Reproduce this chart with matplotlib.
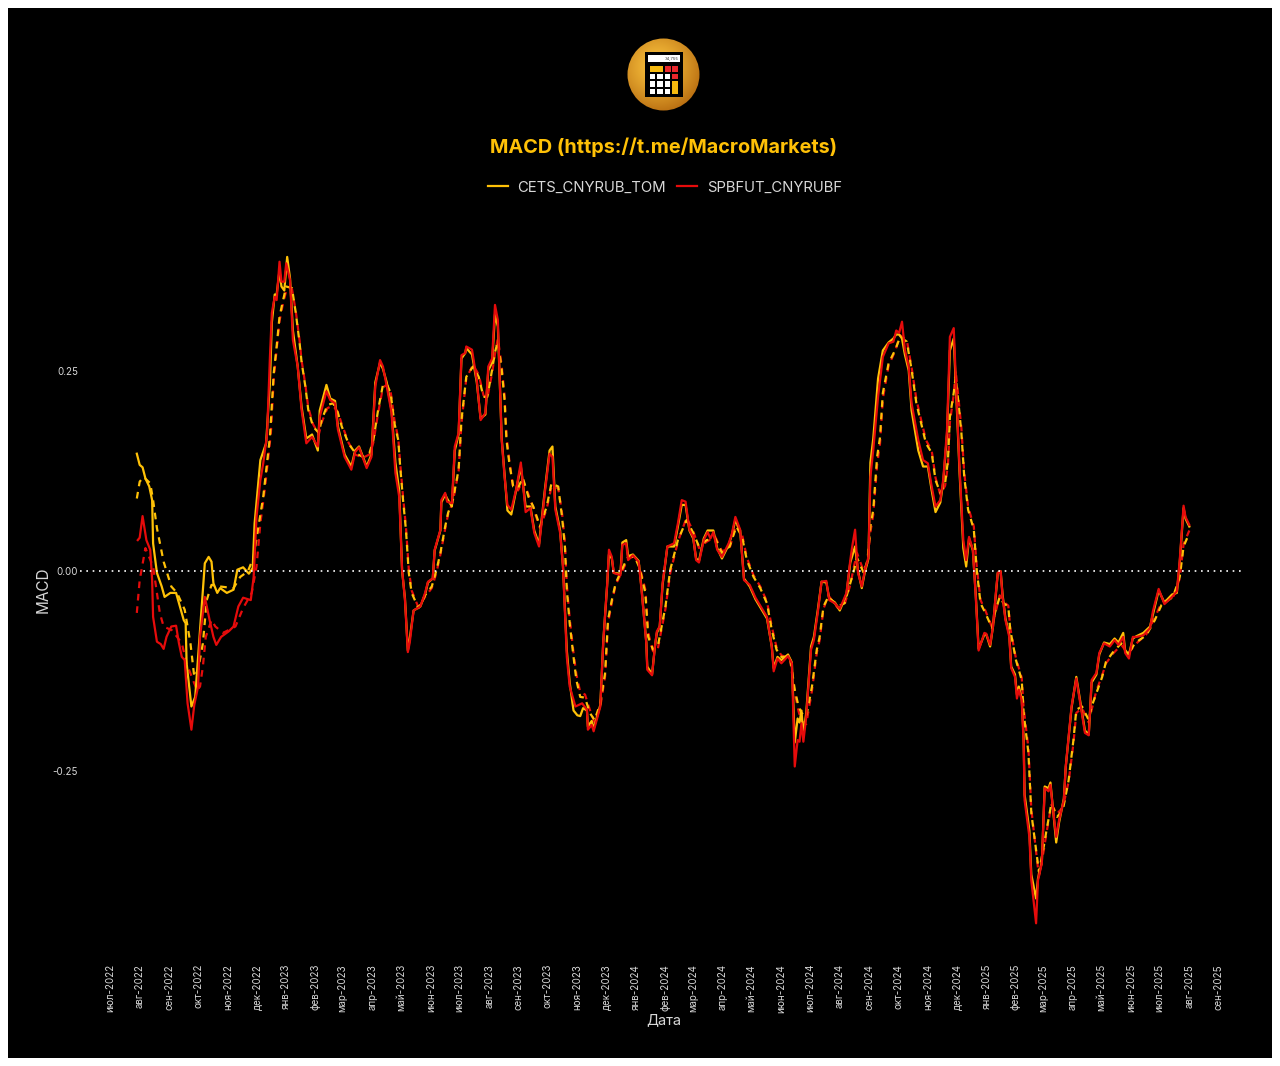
import numpy as np
import pandas as pd
import matplotlib
matplotlib.use('Agg')
import matplotlib.pyplot as plt
from matplotlib.patches import Rectangle, Circle
from matplotlib.lines import Line2D

plt.rcParams['font.family'] = ['Inter', 'DejaVu Sans']

W, H = 1280, 1066
START = pd.Timestamp('2022-07-01')

# (days since 1 Jul 2022, value)
cets_macd = [
    (28, .146), (31, .132), (34, .129), (37, .115), (41, .105), (44, .088), (45, .034), (49, -.003), (54, -.020),
    (57, -.033), (63, -.028), (69, -.028), (73, -.045), (77, -.062), (79, -.066), (80, -.116), (85, -.170), (89, -.158),
    (92, -.108), (99, .009), (103, .017), (106, .011), (108, -.016), (112, -.028), (115, -.022), (122, -.028),
    (129, -.024), (133, .001), (139, .004), (145, -.004), (149, .003), (151, .059), (157, .138), (163, .159),
    (167, .235), (169, .31), (172, .345), (174, .345), (177, .375), (179, .355), (182, .35), (185, .392), (188, .365),
    (191, .30), (196, .255), (200, .205), (205, .165), (211, .17), (217, .15), (219, .20), (226, .232), (230, .215),
    (235, .212), (238, .18), (245, .145), (252, .13), (256, .15), (260, .155), (268, .13), (273, .145), (277, .235),
    (282, .26), (285, .252), (289, .235), (294, .20), (298, .135), (302, .10), (305, .0), (308, -.035), (311, -.10),
    (313, -.085), (317, -.05), (324, -.045), (329, -.03), (332, -.015), (337, -.01), (339, .025), (345, .05), (346, .085),
    (350, .095), (352, .09), (357, .08), (360, .15), (364, .17), (367, .265), (371, .272), (372, .278), (378, .27),
    (383, .235), (387, .19), (392, .195), (395, .25), (399, .26), (402, .32), (405, .305), (409, .165), (412, .12),
    (415, .075), (419, .07), (424, .10), (429, .13), (434, .08), (439, .08), (443, .05), (448, .033), (454, .1), (459, .15),
    (462, .155), (465, .08), (470, .05), (473, .005), (477, -.10), (480, -.14), (484, -.175), (488, -.181), (491, -.182),
    (494, -.172), (498, -.175), (499, -.195), (503, -.188), (505, -.198), (512, -.168), (515, -.09), (519, -.02),
    (521, .02), (524, .015), (526, -.003), (533, -.004), (535, .035), (539, .038), (541, .018), (546, .02), (552, .012),
    (555, -.022), (560, -.09), (561, -.12), (566, -.13), (569, -.095), (571, -.078), (574, -.07), (577, -.018), (582, .03),
    (589, .03), (593, .055), (597, .082), (601, .082), (605, .05), (609, .04), (612, .015), (615, .012), (620, .04),
    (624, .05), (630, .05), (634, .028), (639, .015), (646, .032), (649, .043), (653, .063), (658, .05), (662, -.01),
    (668, -.02), (674, -.036), (686, -.06), (691, -.095), (693, -.122), (697, -.108), (701, -.112), (708, -.105),
    (712, -.115), (715, -.215), (718, -.185), (720, -.19), (722, -.175), (724, -.205), (727, -.178), (732, -.095),
    (735, -.083), (739, -.05), (743, -.014), (748, -.015), (751, -.035), (757, -.04), (762, -.05), (769, -.03), (773, .01),
    (778, .03), (781, .0), (785, -.022), (788, -.003), (792, .015), (794, .135), (797, .165), (802, .24), (807, .275),
    (813, .285), (818, .29), (821, .295), (824, .295), (827, .29), (830, .27), (834, .25), (837, .20), (844, .15),
    (849, .13), (854, .13), (858, .10), (862, .073), (867, .085), (870, .11), (874, .17), (877, .275), (881, .29),
    (884, .21), (887, .125), (891, .028), (894, .005), (897, .04), (901, .025), (904, -.03), (907, -.098), (913, -.08),
    (915, -.08), (919, -.095), (922, -.07), (925, -.03), (927, -.003), (930, -.001), (932, -.03), (935, -.06), (939, -.08),
    (941, -.12), (945, -.13), (947, -.155), (949, -.145), (952, -.16), (954, -.21), (955, -.28), (960, -.325), (962, -.38),
    (967, -.41), (969, -.385), (973, -.365), (976, -.27), (980, -.272), (982, -.265), (984, -.29), (988, -.34), (991, -.315),
    (996, -.285), (998, -.245), (1004, -.172), (1009, -.133), (1018, -.2), (1022, -.205), (1025, -.14), (1030, -.13),
    (1033, -.105), (1038, -.09), (1044, -.092), (1049, -.085), (1053, -.09), (1058, -.078), (1060, -.1), (1064, -.105),
    (1068, -.085), (1072, -.082), (1079, -.078), (1086, -.07), (1089, -.055), (1095, -.025), (1101, -.04), (1109, -.03),
    (1114, -.028), (1117, .01), (1121, .078), (1123, .065), (1127, .055),
]

spb_macd = [
    (29, .038), (31, .041), (34, .068), (38, .038), (42, .026), (44, -.012), (45, -.058), (49, -.089), (53, -.092),
    (56, -.098), (59, -.083), (64, -.070), (69, -.069), (72, -.091), (75, -.108), (78, -.112), (81, -.166), (85, -.199),
    (88, -.168), (92, -.145), (94, -.083), (99, -.033), (104, -.062), (108, -.083), (111, -.093), (116, -.083),
    (124, -.076), (129, -.070), (134, -.045), (139, -.034), (147, -.037), (150, -.008), (153, .067), (157, .113),
    (160, .134), (164, .170), (167, .267), (169, .322), (172, .342), (174, .338), (177, .386), (179, .361), (182, .361),
    (184, .384), (188, .363), (191, .288), (196, .255), (200, .201), (205, .159), (211, .167), (217, .155), (219, .192),
    (226, .224), (230, .213), (235, .209), (238, .176), (245, .142), (252, .126), (256, .148), (260, .154), (268, .128),
    (273, .142), (277, .230), (282, .263), (285, .255), (289, .230), (294, .197), (298, .122), (302, .092), (305, .001),
    (308, -.037), (311, -.102), (313, -.090), (317, -.050), (324, -.045), (329, -.028), (332, -.014), (337, -.010),
    (339, .026), (345, .051), (346, .088), (350, .097), (352, .086), (357, .084), (360, .155), (364, .172), (367, .269),
    (371, .272), (372, .280), (378, .276), (383, .238), (387, .188), (392, .197), (395, .255), (399, .265), (402, .332),
    (405, .313), (409, .163), (412, .117), (415, .082), (419, .076), (424, .101), (429, .135), (434, .073), (439, .078),
    (443, .047), (448, .030), (454, .097), (459, .146), (462, .142), (465, .076), (470, .047), (473, .005), (477, -.108),
    (480, -.145), (486, -.170), (493, -.166), (498, -.174), (499, -.199), (503, -.193), (505, -.201), (512, -.170),
    (515, -.091), (519, -.020), (521, .026), (524, .017), (526, -.003), (533, -.006), (535, .032), (539, .034),
    (541, .013), (546, .019), (552, .011), (555, -.024), (560, -.091), (561, -.124), (566, -.131), (569, -.095),
    (571, -.076), (574, -.070), (577, -.016), (582, .030), (589, .034), (593, .059), (597, .088), (601, .086), (605, .051),
    (609, .042), (612, .013), (615, .010), (620, .038), (624, .048), (627, .040), (630, .048), (634, .026), (639, .017),
    (646, .034), (649, .044), (653, .067), (658, .051), (662, -.012), (668, -.018), (674, -.034), (686, -.058),
    (691, -.095), (693, -.126), (697, -.110), (701, -.116), (708, -.107), (712, -.116), (715, -.245), (718, -.212),
    (720, -.214), (722, -.191), (724, -.214), (727, -.183), (732, -.099), (735, -.087), (739, -.053), (743, -.014),
    (748, -.013), (751, -.037), (757, -.041), (762, -.048), (769, -.028), (773, .013), (775, .030), (778, .051),
    (781, -.003), (785, -.020), (788, -.001), (792, .017), (794, .117), (797, .151), (802, .217), (807, .267), (813, .284),
    (818, .286), (821, .300), (824, .297), (827, .311), (830, .276), (834, .255), (837, .209), (844, .163), (849, .138),
    (854, .134), (858, .105), (862, .080), (867, .088), (870, .113), (874, .176), (877, .292), (881, .303), (884, .217),
    (887, .130), (891, .038), (894, .013), (897, .042), (901, .026), (904, -.033), (907, -.100), (913, -.078), (915, -.079),
    (919, -.093), (922, -.070), (925, -.028), (927, -.003), (930, -.001), (932, -.033), (935, -.062), (939, -.083),
    (941, -.122), (945, -.133), (947, -.160), (949, -.149), (952, -.162), (954, -.216), (955, -.287), (960, -.333),
    (962, -.387), (967, -.441), (969, -.387), (973, -.366), (976, -.272), (980, -.276), (982, -.268), (984, -.291),
    (988, -.333), (991, -.312), (996, -.287), (998, -.245), (1004, -.170), (1009, -.135), (1018, -.203), (1022, -.206),
    (1025, -.137), (1030, -.128), (1033, -.103), (1038, -.091), (1044, -.095), (1049, -.087), (1053, -.093), (1058, -.083),
    (1060, -.103), (1064, -.110), (1068, -.083), (1072, -.083), (1079, -.081), (1086, -.072), (1089, -.051), (1095, -.023),
    (1101, -.042), (1109, -.033), (1114, -.026), (1117, .013), (1121, .081), (1123, .067), (1127, .057),
]

cets_signal = [
    (28, .09), (31, .111), (35, .117), (42, .109), (45, .088), (49, .053), (56, .011), (64, -.020), (70, -.028),
    (78, -.049), (84, -.091), (88, -.133), (92, -.124), (97, -.091), (101, -.037), (106, -.018), (115, -.020),
    (129, -.022), (136, -.008), (144, -.001), (150, .017), (155, .055), (160, .092), (164, .135),
    (167, .167), (171, .247), (174, .280), (177, .317), (180, .334), (184, .355), (190, .353), (194, .322), (198, .284),
    (200, .261), (204, .230), (207, .201), (212, .180), (218, .172), (221, .188), (227, .207), (233, .209), (238, .197),
    (242, .180), (249, .159), (256, .147), (264, .142), (271, .147), (275, .163), (280, .201), (285, .232), (289, .233),
    (293, .222), (297, .184), (301, .163), (303, .130), (306, .088), (309, .051), (312, -.003), (315, -.028), (322, -.047),
    (329, -.031), (336, -.020), (341, .001), (345, .022), (350, .055), (353, .072), (358, .088), (364, .126), (367, .188),
    (372, .242), (379, .255), (385, .242), (390, .217), (394, .217), (399, .251), (402, .273), (405, .286), (409, .251),
    (412, .213), (414, .163), (417, .134), (421, .105), (426, .103), (431, .116), (437, .092), (442, .080), (449, .055),
    (456, .080), (461, .109), (468, .105), (472, .067), (475, .030), (477, -.024), (480, -.066), (484, -.108), (487, -.137),
    (491, -.158), (496, -.159), (501, -.178), (506, -.187), (512, -.166), (517, -.128), (520, -.062), (524, -.037),
    (528, -.016), (536, .005), (541, .017), (548, .017), (553, .003), (559, -.028), (562, -.083), (567, -.099), (572, -.095),
    (580, -.045), (585, .001), (593, .038), (602, .063), (609, .047), (615, .030), (623, .038), (632, .040), (639, .022),
    (647, .030), (654, .055), (660, .042), (665, .013), (672, -.008), (679, -.022), (686, -.041), (691, -.074), (696, -.099),
    (701, -.108), (710, -.108), (715, -.149), (719, -.170), (722, -.178), (727, -.183), (733, -.145), (738, -.099),
    (741, -.083), (745, -.045), (750, -.033), (760, -.045), (767, -.041), (773, -.016), (777, .001), (780, .016), (787, -.003),
    (791, .013), (794, .055), (797, .076), (801, .142), (804, .166), (807, .222), (813, .259), (820, .276), (825, .292),
    (832, .286), (837, .251), (842, .209), (847, .184), (852, .159), (858, .147), (862, .113), (867, .097), (872, .109),
    (875, .138), (877, .192), (881, .222), (883, .242), (886, .209), (889, .172), (892, .117), (896, .076), (902, .051),
    (905, .001), (909, -.041), (914, -.053), (921, -.072), (924, -.053), (929, -.033), (933, -.041), (938, -.045),
    (940, -.074), (946, -.112), (952, -.137), (954, -.178), (959, -.228), (962, -.303), (968, -.358), (970, -.377),
    (975, -.345), (978, -.324), (983, -.291), (989, -.308), (995, -.299), (1001, -.262), (1006, -.212), (1009, -.174),
    (1015, -.170), (1022, -.187), (1025, -.170), (1030, -.153), (1036, -.133), (1040, -.114), (1048, -.101), (1056, -.091),
    (1063, -.106), (1070, -.091), (1082, -.081), (1091, -.062), (1098, -.043), (1110, -.033), (1117, -.008), (1121, .030),
    (1127, .047),
]

spb_signal = [
    (28, -.053), (31, -.012), (37, .028), (45, .005), (49, -.028), (52, -.053), (56, -.070), (65, -.075), (75, -.091),
    (80, -.116), (86, -.135), (91, -.150), (94, -.145), (97, -.120), (100, -.083), (106, -.062), (110, -.070), (118, -.078),
    (131, -.070), (139, -.047), (148, -.028), (153, .005), (157, .059), (162, .105), (168, .172),
    (171, .240), (174, .276), (177, .312), (180, .330), (184, .350), (190, .352), (194, .324), (198, .287),
    (200, .263), (204, .232), (207, .204), (212, .183), (218, .170), (221, .185), (227, .203), (233, .206), (238, .198),
    (242, .183), (249, .160), (256, .145), (264, .141), (271, .145), (275, .160), (280, .197), (285, .229), (289, .232),
    (293, .224), (297, .188), (301, .165), (303, .134), (306, .092), (309, .055), (312, .001), (315, -.025), (322, -.046),
    (329, -.033), (336, -.022), (341, -.002), (345, .020), (350, .052), (353, .070), (358, .086), (364, .124), (367, .184),
    (372, .240), (379, .257), (385, .245), (390, .219), (394, .215), (399, .247), (402, .271), (405, .290), (409, .256),
    (412, .218), (414, .168), (417, .137), (421, .103), (426, .100), (431, .113), (437, .095), (442, .078), (449, .053),
    (456, .077), (461, .105), (468, .103), (472, .072), (475, .035), (477, -.018), (480, -.060), (484, -.103), (487, -.130),
    (491, -.152), (496, -.155), (501, -.174), (506, -.190), (512, -.170), (517, -.132), (520, -.066), (524, -.040),
    (528, -.018), (536, .002), (541, .015), (548, .018), (553, .005), (559, -.024), (562, -.078), (567, -.101), (572, -.098),
    (580, -.048), (585, -.003), (593, .036), (602, .066), (609, .049), (615, .028), (623, .036), (632, .042), (639, .024),
    (647, .028), (654, .058), (660, .045), (665, .016), (672, -.006), (679, -.020), (686, -.039), (691, -.070), (696, -.096),
    (701, -.106), (710, -.110), (715, -.153), (719, -.176), (722, -.188), (727, -.192), (733, -.150), (738, -.103),
    (741, -.087), (745, -.048), (750, -.031), (760, -.047), (767, -.043), (773, -.018), (777, .006), (780, .022), (787, -.001),
    (791, .010), (794, .048), (797, .070), (801, .132), (804, .158), (807, .215), (813, .256), (820, .275), (825, .294),
    (832, .288), (837, .254), (842, .214), (847, .188), (852, .163), (858, .150), (862, .116), (867, .095), (872, .106),
    (875, .132), (877, .185), (881, .220), (883, .250), (886, .215), (889, .178), (892, .122), (896, .080), (902, .055),
    (905, .005), (909, -.037), (914, -.050), (921, -.071), (924, -.056), (929, -.031), (933, -.039), (938, -.044),
    (940, -.072), (946, -.110), (952, -.134), (954, -.172), (959, -.222), (962, -.298), (968, -.362), (970, -.382),
    (975, -.350), (978, -.327), (983, -.293), (989, -.304), (995, -.296), (1001, -.264), (1006, -.216), (1009, -.178),
    (1015, -.172), (1022, -.190), (1025, -.174), (1030, -.150), (1036, -.131), (1040, -.116), (1048, -.103), (1056, -.093),
    (1063, -.104), (1070, -.093), (1082, -.080), (1091, -.059), (1098, -.040), (1110, -.034), (1117, -.010), (1121, .033),
    (1127, .050),
]

month_names = ['июл', 'авг', 'сен', 'окт', 'ноя', 'дек', 'янв', 'фев', 'мар', 'апр', 'май', 'июн']
tick_months = pd.date_range('2022-07-01', '2025-09-01', freq='MS')
tick_labels = [f'{month_names[(d.month - 7) % 12]}-{d.year}' for d in tick_months]
y_ticks = [-0.25, 0.0, 0.25]

YELLOW = '#FFC107'
RED = '#E60B0B'
GREY = '#D8D8D8'


def series(pairs):
    days, vals = zip(*pairs)
    return START + pd.to_timedelta(days, unit='D'), vals


def fx(px):
    return px / W


def fy(py):
    return 1 - py / H


fig = plt.figure(figsize=(W / 100, H / 100), dpi=100, facecolor='white')
fig.patches.append(Rectangle((fx(8), fy(1058)), fx(1264), 1050 / H, transform=fig.transFigure,
                             facecolor='black', edgecolor='none', zorder=-5))

# plot area
left, right, top, bottom = 80, 1245, 230, 950
ax = fig.add_axes([fx(left), fy(bottom), fx(right - left), (bottom - top) / H])
ax.patch.set_alpha(0)
for s in ax.spines.values():
    s.set_visible(False)

dash = (0, (3.0, 2.6))
x, y = series(spb_signal)
ax.plot(x, y, color=RED, lw=1.6, ls=dash, zorder=2)
x, y = series(cets_signal)
ax.plot(x, y, color=YELLOW, lw=1.6, ls=dash, zorder=3)
x, y = series(cets_macd)
ax.plot(x, y, color=YELLOW, lw=1.6, zorder=4, solid_joinstyle='round')
x, y = series(spb_macd)
ax.plot(x, y, color=RED, lw=1.6, zorder=5, solid_joinstyle='round')
ax.axhline(0, color='white', lw=1.2, ls=(0, (1, 2.8)), zorder=6)

px_per_day = (1219 - 110) / (tick_months[-1] - tick_months[0]).days
ax.set_xlim(START + pd.Timedelta(days=(left - 110) / px_per_day),
            START + pd.Timedelta(days=(right - 110) / px_per_day))
ax.set_ylim((570.5 - bottom) / 800, (570.5 - top) / 800)

ax.set_xticks(tick_months)
ax.set_xticklabels(tick_labels, rotation=90, fontsize=7, color=GREY)
ax.set_yticks(y_ticks)
ax.set_yticklabels([f'{v:.2f}' for v in y_ticks], fontsize=7, color=GREY)
ax.tick_params(axis='x', length=0, pad=10)
ax.tick_params(axis='y', length=0, pad=1.5)

fig.text(fx(664), fy(1020), 'Дата', color=GREY, fontsize=10.5, ha='center', va='center')
fig.text(fx(43), fy(590), 'MACD', color=GREY, fontsize=11, rotation=90, ha='center', va='center')
fig.text(fx(663.5), fy(147.5), 'MACD (https://t.me/MacroMarkets)', color=YELLOW, fontsize=14.3,
         fontweight='bold', ha='center', va='center')

handles = [Line2D([], [], color=YELLOW, lw=1.6), Line2D([], [], color=RED, lw=1.6)]
fig.legend(handles, ['CETS_CNYRUB_TOM', 'SPBFUT_CNYRUBF'], loc='center', bbox_to_anchor=(fx(665), fy(187.5)),
           ncol=2, frameon=False, fontsize=10.7, labelcolor=GREY, handlelength=1.35, handletextpad=0.65,
           columnspacing=0.75)

# calculator logo
logo = fig.add_axes([fx(620), fy(118), fx(88), 88 / H])
logo.set_xlim(620, 708)
logo.set_ylim(118, 30)
logo.axis('off')
logo.patch.set_alpha(0)
cx, cy, r = 663.5, 74.5, 36
gx, gy = np.meshgrid(np.linspace(620, 708, 176), np.linspace(30, 118, 176))
dist = np.hypot(gx - cx + 6, gy - cy + 8) / (r * 1.4)
shade = np.clip(dist ** 1.3, 0, 1)[..., None]
inner, outer = np.array([0.98, 0.76, 0.24]), np.array([0.70, 0.40, 0.05])
img = logo.imshow(inner * (1 - shade) + outer * shade, extent=(620, 708, 118, 30), zorder=1)
img.set_clip_path(Circle((cx, cy), r, transform=logo.transData))
logo.add_patch(Rectangle((645, 52), 37.5, 45, facecolor='black', lw=0, zorder=2))
logo.add_patch(Rectangle((647.5, 55), 32, 7, facecolor='white', lw=0, zorder=3))
logo.text(678.5, 58.5, '34,755', fontsize=3, color='#333333', ha='right', va='center', zorder=4)
logo.add_patch(Rectangle((649.5, 66), 13, 5.5, facecolor='#F5B90F', lw=0, zorder=3))
logo.add_patch(Rectangle((664.5, 66), 6, 5.5, facecolor='#E9272C', lw=0, zorder=3))
logo.add_patch(Rectangle((672, 66), 6, 5.5, facecolor='#E9272C', lw=0, zorder=3))
logo.add_patch(Rectangle((672, 73.5), 6, 5.5, facecolor='#E9272C', lw=0, zorder=3))
logo.add_patch(Rectangle((672, 81), 6, 13, facecolor='#F5B90F', lw=0, zorder=3))
for row_y in (73.5, 81, 88.5):
    for col_x in (649.5, 657, 664.5):
        logo.add_patch(Rectangle((col_x, row_y), 5.6, 5.6, facecolor='white', lw=0, zorder=3))

fig.savefig('out.png', dpi=100, facecolor='white')
